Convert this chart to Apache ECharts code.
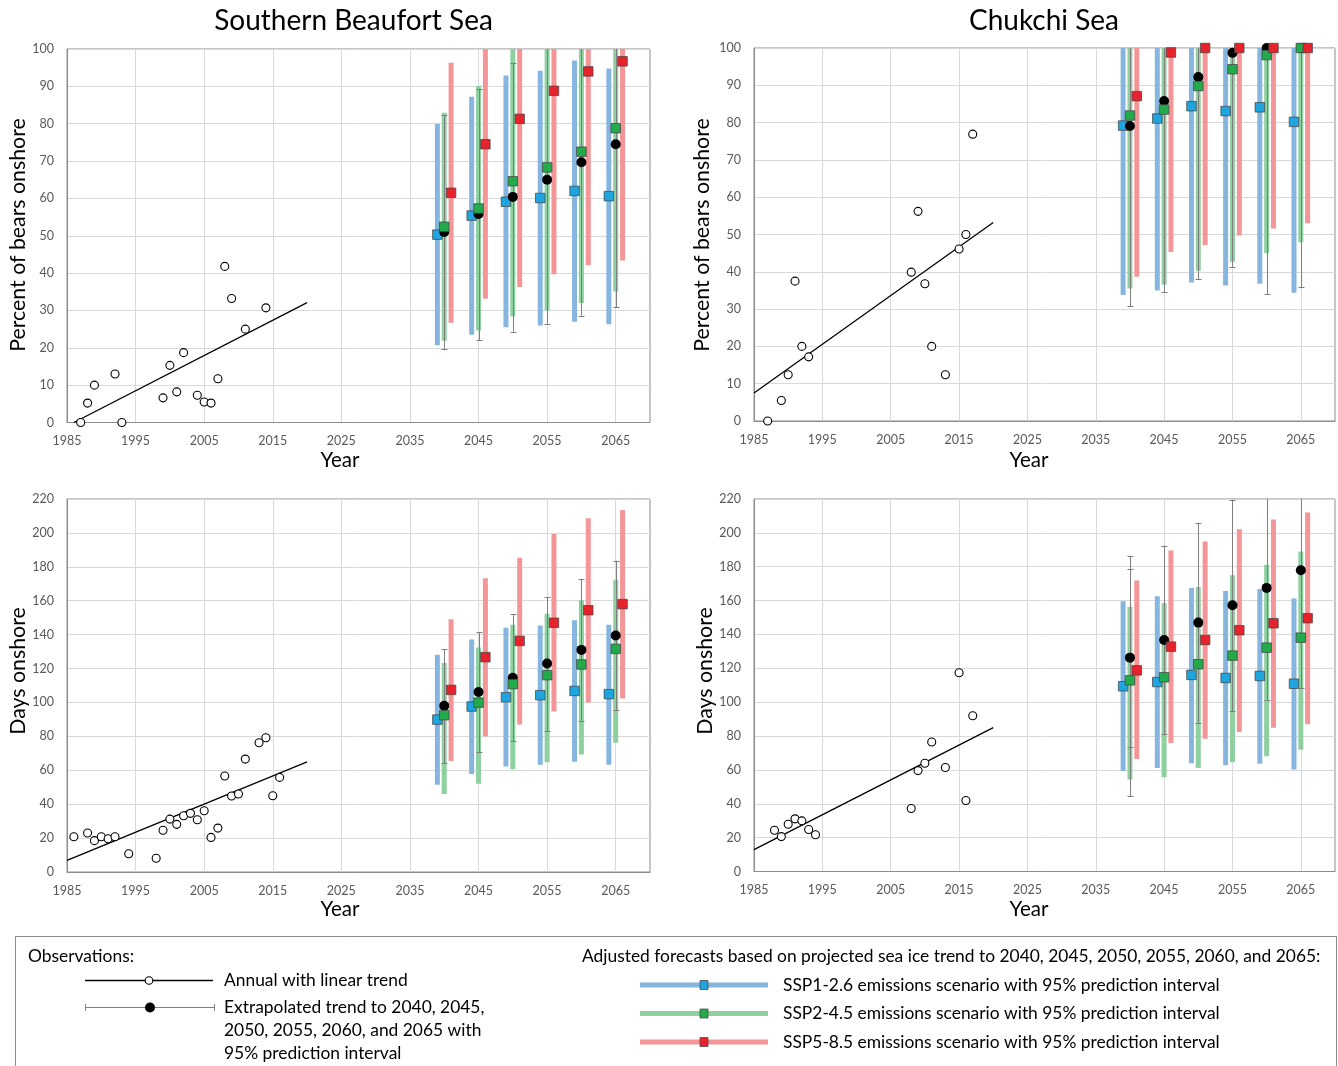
<!DOCTYPE html>
<html><head><meta charset="utf-8">
<script src="https://cdn.jsdelivr.net/npm/echarts@6/dist/echarts.min.js"></script>
<style>html,body{margin:0;padding:0;background:#fff}#chart{width:1338px;height:1066px}</style>
</head><body><div id="chart"></div>
<script>
// ---------------- DATA ----------------
const forecastYears = [2040, 2045, 2050, 2055, 2060, 2065];
const xTickLabels = [1985, 1995, 2005, 2015, 2025, 2035, 2045, 2055, 2065];

// Southern Beaufort Sea - percent of bears onshore
const sbsPctObsYears = [1987,1988,1989,1992,1993,1999,2000,2001,2002,2004,2005,2006,2007,2008,2009,2011,2014];
const sbsPctObs      = [0,5.2,10,13,0,6.6,15.3,8.2,18.7,7.3,5.5,5.2,11.7,41.8,33.2,25,30.7];
const sbsPctTrendYears = [1986, 2020];
const sbsPctTrend      = [0, 32.1];
const sbsPctSsp126   = [50.3,55.4,59.1,60.1,62,60.6];
const sbsPctSsp126Lo = [20.7,23.5,25.5,26,27,26.3];
const sbsPctSsp126Hi = [79.9,87.2,92.9,94.2,96.9,94.8];
const sbsPctSsp245   = [52.4,57.3,64.6,68.3,72.5,78.8];
const sbsPctSsp245Lo = [21.9,24.6,28.4,30,32,35.1];
const sbsPctSsp245Hi = [82.9,90.1,100.8,106.6,113,122.5];
const sbsPctSsp585   = [61.5,74.5,81.3,88.8,94,96.7];
const sbsPctSsp585Lo = [26.7,33.1,36.3,39.7,42.1,43.4];
const sbsPctSsp585Hi = [96.3,115.9,126.3,137.9,145.9,150];
const sbsPctExt      = [51,55.8,60.4,65,69.7,74.5];
const sbsPctExtLo    = [19.6,22,24.3,26.5,28.6,30.8];
const sbsPctExtHi    = [82.3,89.4,96.3,103.5,110.8,118.2];

// Chukchi Sea - percent of bears onshore
const chkPctObsYears = [1987,1989,1990,1991,1992,1993,2008,2009,2010,2011,2013,2015,2016,2017];
const chkPctObs      = [0,5.5,12.4,37.5,20,17.2,39.9,56.2,36.8,20,12.4,46.1,50,76.9];
const chkPctTrendYears = [1985, 2020];
const chkPctTrend      = [7.5, 53.2];
const chkPctSsp126   = [79.2,81.1,84.4,83.1,84.1,80.2];
const chkPctSsp126Lo = [33.8,35,37.1,36.3,36.8,34.4];
const chkPctSsp126Hi = [124.6,127.2,131.7,129.9,131.4,126];
const chkPctSsp245   = [81.9,83.5,89.8,94.3,98.1,100];
const chkPctSsp245Lo = [35.5,36.5,40.3,42.7,45,47.9];
const chkPctSsp245Hi = [128.3,130.5,139.3,145.9,151.2,152.1];
const chkPctSsp585   = [87.1,98.8,100,100,100,100];
const chkPctSsp585Lo = [38.7,45.3,47.2,49.7,51.6,53];
const chkPctSsp585Hi = [135.5,152.3,160,165,170,175];
const chkPctExt      = [79.1,85.8,92.2,98.7,100,100];
const chkPctExtLo    = [30.8,34.5,38,41.2,34,35.8];
const chkPctExtHi    = [127.4,137.1,146.4,156.2,166,164];

// Southern Beaufort Sea - days onshore
const sbsDayObsYears = [1986,1988,1989,1990,1991,1992,1994,1998,1999,2000,2001,2002,2003,2004,2005,2006,2007,2008,2009,2010,2011,2013,2014,2015,2016];
const sbsDayObs      = [20.8,23,18.5,20.8,19.6,20.8,10.8,8.1,24.6,31.2,28.1,33.2,34.6,30.8,36.1,20.4,25.9,56.6,44.8,46,66.6,76.2,79.2,45,55.8];
const sbsDayTrendYears = [1985, 2020];
const sbsDayTrend      = [6.9, 65];
const sbsDaySsp126   = [89.9,97.6,103.1,104.3,106.8,104.9];
const sbsDaySsp126Lo = [51.5,57.8,62.2,63.2,65.1,63.3];
const sbsDaySsp126Hi = [128.1,137.1,144,145.4,148.5,145.8];
const sbsDaySsp245   = [92.5,99.9,110.8,116.1,122.4,131.6];
const sbsDaySsp245Lo = [46,52.1,60.6,64.7,69.3,76.3];
const sbsDaySsp245Hi = [123.4,132.4,145.8,152.3,160.3,172.3];
const sbsDaySsp585   = [107.4,126.7,136.3,147,154.4,158];
const sbsDaySsp585Lo = [65.5,79.9,87,94.6,99.9,102.3];
const sbsDaySsp585Hi = [149.1,173.3,185.3,199.3,208.7,213.5];
const sbsDayExt      = [98,106.2,114.5,123,131,139.5];
const sbsDayExtLo    = [64.1,70.6,77.1,83.2,89.3,95.4];
const sbsDayExtHi    = [131.4,141.6,152.1,162.3,172.9,183.6];

// Chukchi Sea - days onshore
const chkDayObsYears = [1988,1989,1990,1991,1992,1993,1994,2008,2009,2010,2011,2013,2015,2016,2017];
const chkDayObs      = [24.4,20.6,27.9,31.1,29.9,24.8,21.7,37.2,59.6,63.9,76.5,61.4,117.4,41.9,92];
const chkDayTrendYears = [1985, 2020];
const chkDayTrend      = [12.9, 85];
const chkDaySsp126   = [109.4,111.9,116.1,114.3,115.5,110.9];
const chkDaySsp126Lo = [59.3,61.1,64,62.7,63.6,60.3];
const chkDaySsp126Hi = [159.6,162.6,167.5,165.7,166.9,161.2];
const chkDaySsp245   = [112.9,114.7,122.4,127.5,132.2,138.1];
const chkDaySsp245Lo = [54.4,55.6,61.1,64.6,68,71.9];
const chkDaySsp245Hi = [156.3,158.6,168.1,175,181.1,189];
const chkDaySsp585   = [118.8,132.8,136.7,142.5,146.6,149.6];
const chkDaySsp585Lo = [66.4,75.9,78.4,82.4,84.9,86.9];
const chkDaySsp585Hi = [171.8,189.6,194.9,202.2,207.9,212];
const chkDayExt      = [126.3,136.7,147,157.2,167.5,177.9];
const chkDayExtLo    = [73.7,81,87.9,94.8,101.5,108.2];
const chkDayExtHi    = [178.9,192.5,205.9,219.6,233.5,247.6];
const chkDayExtraYears = [2040];
const chkDayExtraLo    = [44.3];
const chkDayExtraHi    = [186.2];

// ---------------- STYLE ----------------
const FONT = 'Lato, "Open Sans", sans-serif';
const C = {
  blueBar: '#86b5df', greenBar: '#8fd0a1', redBar: '#f49598',
  blueMk: '#1ea5df', greenMk: '#23aa4b', redMk: '#e8222b',
  err: '#7f7f7f', grid: '#d9d9d9', border: '#8c8c8c', tick: '#595959'
};
const BAR_W = 5, MK = 9.5, CAP = 6;
const DODGE = { ssp126: -1, ssp245: 0, ssp585: 1 };

const grids = [
  { left: 67, top: 49, width: 583, height: 373.5 },
  { left: 754, top: 48, width: 583, height: 373 },
  { left: 67, top: 499, width: 583, height: 373 },
  { left: 754, top: 499, width: 583, height: 372.5 }
];
const yCfg = [ {max:100, interval:10}, {max:100, interval:10}, {max:220, interval:20}, {max:220, interval:20} ];

const option = {
  animation: false,
  backgroundColor: '#fff',
  grid: grids.map(g => Object.assign({ show: true, borderColor: C.border, borderWidth: 1, backgroundColor: 'transparent' }, g)),
  xAxis: grids.map((g, i) => ({
    type: 'value', gridIndex: i, min: 1985, max: 2070, interval: 5,
    axisLine: { show: true, lineStyle: { color: C.border } },
    axisTick: { show: false },
    axisLabel: {
      color: C.tick, fontSize: 12.5, fontFamily: FONT, margin: 12,
      formatter: v => xTickLabels.indexOf(v) >= 0 ? String(v) : ''
    },
    splitLine: { show: true, lineStyle: { color: [C.grid, 'rgba(0,0,0,0)'], width: 1 } }
  })),
  yAxis: grids.map((g, i) => ({
    type: 'value', gridIndex: i, min: 0, max: yCfg[i].max, interval: yCfg[i].interval,
    axisLine: { show: true, lineStyle: { color: C.border } },
    axisTick: { show: false },
    axisLabel: { color: C.tick, fontSize: 12.5, fontFamily: FONT, margin: 13 },
    splitLine: { show: true, lineStyle: { color: C.grid, width: 1 } }
  })),
  series: [],
  graphic: []
};

function barRender(offset, color) {
  return function (params, api) {
    const x = api.value(0) + offset;
    const a = api.coord([x, api.value(2)]);
    const b = api.coord([x, api.value(1)]);
    return { type: 'rect', shape: { x: a[0] - BAR_W / 2, y: a[1], width: BAR_W, height: b[1] - a[1] }, style: { fill: color } };
  };
}
function errRender(params, api) {
  const x = api.value(0);
  const a = api.coord([x, api.value(2)]);
  const b = api.coord([x, api.value(1)]);
  const xs = Math.round(a[0]) + 0.5, c = CAP / 2;
  const st = { stroke: C.err, lineWidth: 1 };
  return { type: 'group', children: [
    { type: 'line', shape: { x1: xs, y1: a[1], x2: xs, y2: b[1] }, style: st },
    { type: 'line', shape: { x1: xs - c, y1: Math.round(a[1]) + 0.5, x2: xs + c, y2: Math.round(a[1]) + 0.5 }, style: st },
    { type: 'line', shape: { x1: xs - c, y1: Math.round(b[1]) + 0.5, x2: xs + c, y2: Math.round(b[1]) + 0.5 }, style: st }
  ] };
}
const zip3 = (xs, lo, hi) => xs.map((x, i) => [x, lo[i], hi[i]]);

function addPanel(i, p) {
  const base = { xAxisIndex: i, yAxisIndex: i };
  const S = option.series;
  [['ssp126', C.blueBar], ['ssp245', C.greenBar], ['ssp585', C.redBar]].forEach(([k, col]) => {
    S.push(Object.assign({ type: 'custom', z: 2, clip: true, renderItem: barRender(DODGE[k], col),
      encode: { x: 0, y: [1, 2] }, data: zip3(forecastYears, p[k + 'Lo'], p[k + 'Hi']) }, base));
  });
  S.push(Object.assign({ type: 'custom', z: 3, clip: true, renderItem: errRender,
    encode: { x: 0, y: [1, 2] }, data: zip3(forecastYears, p.extLo, p.extHi) }, base));
  if (p.extraYears) {
    S.push(Object.assign({ type: 'custom', z: 3, clip: true, renderItem: errRender,
      encode: { x: 0, y: [1, 2] }, data: zip3(p.extraYears, p.extraLo, p.extraHi) }, base));
  }
  S.push(Object.assign({ type: 'line', z: 3, symbol: 'none', silent: true,
    lineStyle: { color: '#000', width: 1.3 }, data: p.trendYears.map((y, j) => [y, p.trend[j]]) }, base));
  S.push(Object.assign({ type: 'scatter', z: 4, symbol: 'circle', symbolSize: 8,
    itemStyle: { color: '#fff', borderColor: '#000', borderWidth: 1.1, opacity: 1 },
    data: p.obsYears.map((y, j) => [y, p.obs[j]]) }, base));
  const mk = (k, col, z) => S.push(Object.assign({ type: 'scatter', z: z, clip: false, symbol: 'rect', symbolSize: MK,
    itemStyle: { color: col, borderColor: 'rgba(70,70,70,0.75)', borderWidth: 1, opacity: 1 },
    data: forecastYears.map((y, j) => [y + DODGE[k], p[k][j]]) }, base));
  mk('ssp126', C.blueMk, 5);
  S.push(Object.assign({ type: 'scatter', z: 6, clip: false, symbol: 'circle', symbolSize: 10,
    itemStyle: { color: '#000', opacity: 1 }, data: forecastYears.map((y, j) => [y, p.ext[j]]) }, base));
  mk('ssp245', C.greenMk, 7);
  mk('ssp585', C.redMk, 8);
}

addPanel(0, { obsYears: sbsPctObsYears, obs: sbsPctObs, trendYears: sbsPctTrendYears, trend: sbsPctTrend,
  ssp126: sbsPctSsp126, ssp126Lo: sbsPctSsp126Lo, ssp126Hi: sbsPctSsp126Hi,
  ssp245: sbsPctSsp245, ssp245Lo: sbsPctSsp245Lo, ssp245Hi: sbsPctSsp245Hi,
  ssp585: sbsPctSsp585, ssp585Lo: sbsPctSsp585Lo, ssp585Hi: sbsPctSsp585Hi,
  ext: sbsPctExt, extLo: sbsPctExtLo, extHi: sbsPctExtHi });
addPanel(1, { obsYears: chkPctObsYears, obs: chkPctObs, trendYears: chkPctTrendYears, trend: chkPctTrend,
  ssp126: chkPctSsp126, ssp126Lo: chkPctSsp126Lo, ssp126Hi: chkPctSsp126Hi,
  ssp245: chkPctSsp245, ssp245Lo: chkPctSsp245Lo, ssp245Hi: chkPctSsp245Hi,
  ssp585: chkPctSsp585, ssp585Lo: chkPctSsp585Lo, ssp585Hi: chkPctSsp585Hi,
  ext: chkPctExt, extLo: chkPctExtLo, extHi: chkPctExtHi });
addPanel(2, { obsYears: sbsDayObsYears, obs: sbsDayObs, trendYears: sbsDayTrendYears, trend: sbsDayTrend,
  ssp126: sbsDaySsp126, ssp126Lo: sbsDaySsp126Lo, ssp126Hi: sbsDaySsp126Hi,
  ssp245: sbsDaySsp245, ssp245Lo: sbsDaySsp245Lo, ssp245Hi: sbsDaySsp245Hi,
  ssp585: sbsDaySsp585, ssp585Lo: sbsDaySsp585Lo, ssp585Hi: sbsDaySsp585Hi,
  ext: sbsDayExt, extLo: sbsDayExtLo, extHi: sbsDayExtHi });
addPanel(3, { obsYears: chkDayObsYears, obs: chkDayObs, trendYears: chkDayTrendYears, trend: chkDayTrend,
  ssp126: chkDaySsp126, ssp126Lo: chkDaySsp126Lo, ssp126Hi: chkDaySsp126Hi,
  ssp245: chkDaySsp245, ssp245Lo: chkDaySsp245Lo, ssp245Hi: chkDaySsp245Hi,
  ssp585: chkDaySsp585, ssp585Lo: chkDaySsp585Lo, ssp585Hi: chkDaySsp585Hi,
  ext: chkDayExt, extLo: chkDayExtLo, extHi: chkDayExtHi,
  extraYears: chkDayExtraYears, extraLo: chkDayExtraLo, extraHi: chkDayExtraHi });

// ---------------- TEXT & LEGEND ----------------
const G = option.graphic;
function txt(s, x, y, size, opts) {
  const o = Object.assign({ align: 'left', rot: 0 }, opts || {});
  G.push({ type: 'text', x: x, y: y, rotation: o.rot, z: 100,
    style: { text: s, font: size + 'px ' + FONT, fill: '#000', align: o.align, verticalAlign: 'middle',
      textAlign: o.align, textVerticalAlign: 'middle' } });
}
txt('Southern Beaufort Sea', 353.5, 21, 28, { align: 'center' });
txt('Chukchi Sea', 1044, 21, 28, { align: 'center' });
txt('Percent of bears onshore', 18, 235, 21.3, { align: 'center', rot: Math.PI / 2 });
txt('Percent of bears onshore', 702, 235, 21.3, { align: 'center', rot: Math.PI / 2 });
txt('Days onshore', 18, 671, 21.3, { align: 'center', rot: Math.PI / 2 });
txt('Days onshore', 705, 671, 21.3, { align: 'center', rot: Math.PI / 2 });
txt('Year', 340, 460, 20.5, { align: 'center' });
txt('Year', 1029, 460, 20.5, { align: 'center' });
txt('Year', 340, 909, 20.5, { align: 'center' });
txt('Year', 1029, 909, 20.5, { align: 'center' });

G.push({ type: 'rect', z: 90, shape: { x: 15.5, y: 936.5, width: 1321, height: 140 },
  style: { fill: '#fff', stroke: C.border, lineWidth: 1 } });
const LF = 17.4;
txt('Observations:', 28, 956, LF);
G.push({ type: 'line', z: 100, shape: { x1: 85, y1: 980.5, x2: 213, y2: 980.5 }, style: { stroke: '#000', lineWidth: 1.3 } });
G.push({ type: 'circle', z: 101, shape: { cx: 149, cy: 980.5, r: 3.8 }, style: { fill: '#fff', stroke: '#000', lineWidth: 1.1 } });
txt('Annual with linear trend', 224, 980, LF);
G.push({ type: 'line', z: 100, shape: { x1: 85, y1: 1007.5, x2: 215, y2: 1007.5 }, style: { stroke: C.err, lineWidth: 1 } });
G.push({ type: 'line', z: 100, shape: { x1: 85.5, y1: 1004, x2: 85.5, y2: 1011 }, style: { stroke: C.err, lineWidth: 1 } });
G.push({ type: 'line', z: 100, shape: { x1: 214.5, y1: 1004, x2: 214.5, y2: 1011 }, style: { stroke: C.err, lineWidth: 1 } });
G.push({ type: 'circle', z: 101, shape: { cx: 150, cy: 1007.5, r: 5 }, style: { fill: '#000' } });
txt('Extrapolated trend to 2040, 2045,', 224, 1007, LF);
txt('2050, 2055, 2060, and 2065 with', 224, 1030, LF);
txt('95% prediction interval', 224, 1053, LF);
txt('Adjusted forecasts based on projected sea ice trend to 2040, 2045, 2050, 2055, 2060, and 2065:', 582, 956, LF);
[[C.blueBar, C.blueMk, 985, 'SSP1-2.6 emissions scenario with 95% prediction interval'],
 [C.greenBar, C.greenMk, 1013.5, 'SSP2-4.5 emissions scenario with 95% prediction interval'],
 [C.redBar, C.redMk, 1042, 'SSP5-8.5 emissions scenario with 95% prediction interval']].forEach(([bc, mc, y, s]) => {
  G.push({ type: 'line', z: 100, shape: { x1: 640, y1: y, x2: 768, y2: y }, style: { stroke: bc, lineWidth: 5 } });
  G.push({ type: 'rect', z: 101, shape: { x: 700, y: y - 4.5, width: 8, height: 9 }, style: { fill: mc, stroke: 'rgba(70,70,70,0.75)', lineWidth: 1 } });
  txt(s, 783, y, LF);
});

const chart = echarts.init(document.getElementById('chart'), null, { renderer: 'canvas' });
chart.setOption(option);
</script>
</body></html>
